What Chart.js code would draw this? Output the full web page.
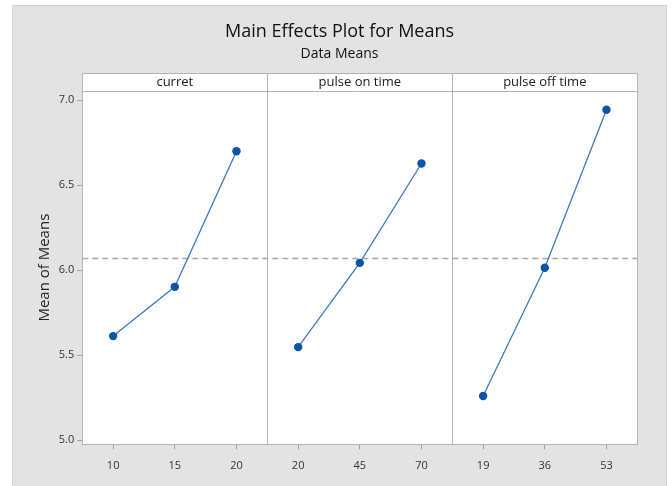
<!DOCTYPE html>
<html>
<head>
<meta charset="utf-8">
<script src="https://cdn.jsdelivr.net/npm/chart.js@4"></script>
<style>
  html, body { margin: 0; padding: 0; background: #fff; }
  #wrap { width: 672px; height: 486px; }
</style>
</head>
<body>
<div id="wrap"><canvas id="chart-main-effects" width="672" height="486"></canvas></div>
<script>
// dados
const factorNames = ['curret', 'pulse on time', 'pulse off time'];
const curretLevels = ['10', '15', '20'];
const pulseOnLevels = ['20', '45', '70'];
const pulseOffLevels = ['19', '36', '53'];
const curretMeans = [5.612, 5.902, 6.700];
const pulseOnMeans = [5.547, 6.043, 6.628];
const pulseOffMeans = [5.259, 6.014, 6.945];
const yTicks = [5.0, 5.5, 6.0, 6.5, 7.0];
const grandMean = 6.073;

const xLabels = [...curretLevels, ...pulseOnLevels, ...pulseOffLevels];

// coloca cada fator no seu painel (3 posições por painel)
function panelData(values, panel) {
  const out = new Array(xLabels.length).fill(null);
  values.forEach((v, i) => { out[panel * 3 + i] = v; });
  return out;
}

const seriesList = [curretMeans, pulseOnMeans, pulseOffMeans];
const frameColor = '#b4b4b4';
const headerTop = 73;

const panelsPlugin = {
  id: 'panels',
  beforeDraw(chart) {
    const { ctx, chartArea: a, width, height } = chart;
    ctx.save();
    ctx.fillStyle = '#ffffff';
    ctx.fillRect(0, 0, width, height);
    ctx.fillStyle = '#e3e3e3';
    ctx.fillRect(12, 5, 655, height - 5);
    ctx.strokeStyle = '#d4d4d4';
    ctx.lineWidth = 1;
    ctx.beginPath();
    ctx.moveTo(12.5, height); ctx.lineTo(12.5, 5.5); ctx.lineTo(666.5, 5.5); ctx.lineTo(666.5, height);
    ctx.stroke();
    ctx.fillStyle = '#ffffff';
    ctx.fillRect(a.left, headerTop, a.right - a.left, a.bottom - headerTop);
    ctx.restore();
  },
  beforeDatasetsDraw(chart) {
    const { ctx, chartArea: a, scales } = chart;
    const y = Math.round(scales.y.getPixelForValue(grandMean)) + 0.5;
    ctx.save();
    ctx.strokeStyle = '#a8a8a8';
    ctx.lineWidth = 1.3;
    ctx.setLineDash([6, 4]);
    ctx.beginPath();
    ctx.moveTo(a.left, y);
    ctx.lineTo(a.right, y);
    ctx.stroke();
    ctx.restore();
  },
  afterDraw(chart) {
    const { ctx, chartArea: a, scales } = chart;
    const x = scales.x;
    const edges = [a.left];
    for (let p = 1; p < factorNames.length; p++) {
      edges.push((x.getPixelForValue(p * 3 - 1) + x.getPixelForValue(p * 3)) / 2);
    }
    edges.push(a.right);
    ctx.save();
    ctx.strokeStyle = frameColor;
    ctx.lineWidth = 1;
    ctx.strokeRect(Math.round(a.left) + 0.5, headerTop + 0.5, Math.round(a.right - a.left), Math.round(a.bottom - headerTop));
    ctx.beginPath();
    ctx.moveTo(a.left, Math.round(a.top) + 0.5);
    ctx.lineTo(a.right, Math.round(a.top) + 0.5);
    for (let i = 1; i < edges.length - 1; i++) {
      const ex = Math.round(edges[i]) + 0.5;
      ctx.moveTo(ex, headerTop);
      ctx.lineTo(ex, a.bottom);
    }
    ctx.stroke();
    ctx.fillStyle = '#1a1a1a';
    ctx.font = '13px "Open Sans"';
    ctx.textAlign = 'center';
    ctx.textBaseline = 'middle';
    factorNames.forEach((name, i) => {
      ctx.fillText(name, (edges[i] + edges[i + 1]) / 2, (headerTop + a.top) / 2);
    });
    ctx.restore();
  }
};

const ctx = document.getElementById('chart-main-effects').getContext('2d');
const mainEffectsChart = new Chart(ctx, {
  type: 'line',
  data: {
    labels: xLabels,
    datasets: seriesList.map((vals, i) => ({
      label: factorNames[i],
      data: panelData(vals, i),
      borderColor: '#3d79c2',
      borderWidth: 1.3,
      pointBackgroundColor: '#0a55a8',
      pointBorderColor: '#0a55a8',
      pointBorderWidth: 0,
      pointRadius: 4.2,
      spanGaps: false,
      tension: 0
    }))
  },
  options: {
    responsive: false,
    animation: false,
    // padding esquerda maior para centralizar o título como no original
    layout: { padding: { left: 41.7, right: 34.7, top: 0, bottom: 0 } },
    plugins: {
      legend: { display: false },
      tooltip: { enabled: false },
      title: {
        display: true,
        text: 'Main Effects Plot for Means',
        color: '#111',
        font: { family: 'Open Sans', size: 18, weight: 'normal' },
        padding: { top: 21, bottom: 3 }
      },
      subtitle: {
        display: true,
        text: 'Data Means',
        color: '#111',
        font: { family: 'Open Sans', size: 14 },
        padding: { top: 0, bottom: 28.6 }
      }
    },
    scales: {
      x: {
        type: 'category',
        offset: true,
        afterFit: (scale) => { scale.height = 41.7; },
        grid: { drawOnChartArea: false, tickLength: 5, color: '#a0a0a0' },
        border: { display: true, color: frameColor },
        ticks: {
          color: '#333',
          padding: 10,
          autoSkip: false,
          maxRotation: 0,
          font: { family: 'Open Sans', size: 11 }
        }
      },
      y: {
        min: 4.975,
        max: 7.055,
        afterBuildTicks: (scale) => { scale.ticks = yTicks.map(v => ({ value: v })); },
        afterFit: (scale) => { scale.width = 40.6; },
        grid: { drawOnChartArea: false, tickLength: 5, color: '#a0a0a0' },
        border: { display: true, color: frameColor },
        title: {
          display: true,
          text: 'Mean of Means',
          color: '#222',
          font: { family: 'Open Sans', size: 15 },
          padding: { top: -5.7, bottom: 0 }
        },
        ticks: {
          color: '#333',
          padding: 3,
          font: { family: 'Open Sans', size: 11 },
          callback: (v) => Number(v).toFixed(1)
        }
      }
    }
  },
  plugins: [panelsPlugin]
});
</script>
</body>
</html>
